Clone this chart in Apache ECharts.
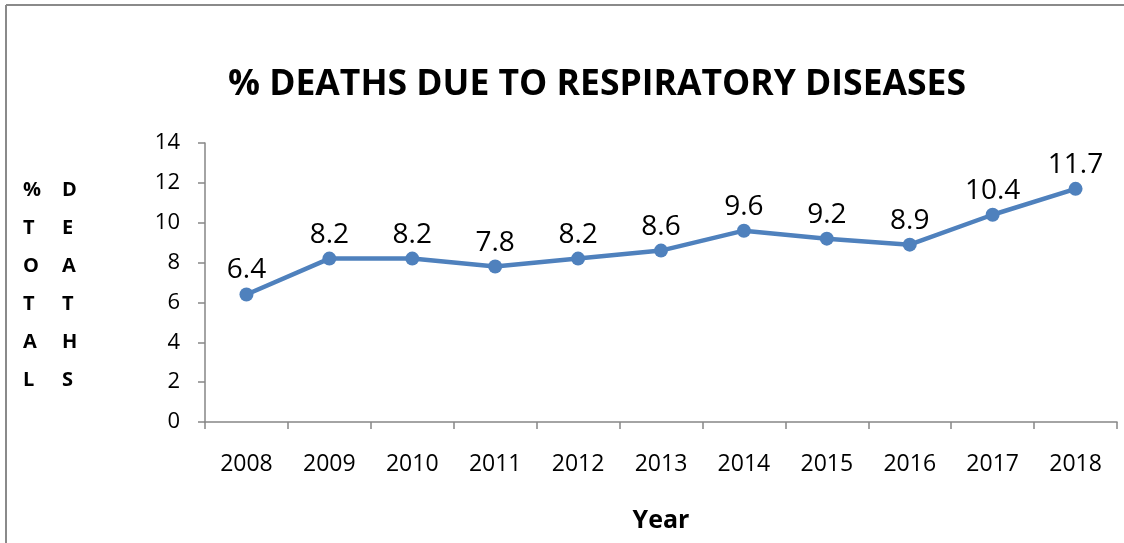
<!DOCTYPE html>
<html>
<head>
<meta charset="utf-8">
<script src="https://cdn.jsdelivr.net/npm/echarts@6/dist/echarts.min.js"></script>
<style>
  html, body { margin: 0; padding: 0; background: #fff; }
  #chart { width: 1124px; height: 543px; }
</style>
</head>
<body>
<div id="chart"></div>
<script>
// data
const years = ['2008', '2009', '2010', '2011', '2012', '2013', '2014', '2015', '2016', '2017', '2018']
const deathsPct = [6.4, 8.2, 8.2, 7.8, 8.2, 8.6, 9.6, 9.2, 8.9, 10.4, 11.7]
const yTicks = [0, 2, 4, 6, 8, 10, 12, 14]

const font = '"Open Sans", "Liberation Sans", sans-serif'
const axisGray = '#868686'

const chart = echarts.init(document.getElementById('chart'))

const option = {
  backgroundColor: '#fff',
  animation: false,
  title: {
    text: '% DEATHS DUE TO RESPIRATORY DISEASES',
    left: 592,
    top: 62,
    textAlign: 'center',
    textStyle: { fontFamily: font, fontSize: 35.5, fontWeight: 'bold', color: '#000' }
  },
  grid: { left: 205, right: 7, top: 143, bottom: 121, outerBoundsMode: 'none' },
  xAxis: {
    type: 'category',
    data: years,
    boundaryGap: true,
    name: 'Year',
    nameLocation: 'middle',
    nameGap: 86,
    nameTextStyle: { fontFamily: font, fontSize: 25, fontWeight: 'bold', color: '#000' },
    axisLine: { lineStyle: { color: axisGray, width: 1.5 } },
    axisTick: { show: true, alignWithLabel: false, length: 7, lineStyle: { color: axisGray, width: 1.5 } },
    axisLabel: { fontFamily: font, fontSize: 23, color: '#000', margin: 31 }
  },
  yAxis: {
    type: 'value',
    min: yTicks[0],
    max: yTicks[yTicks.length - 1],
    interval: 2,
    axisLine: { show: true, lineStyle: { color: axisGray, width: 1.5 } },
    axisTick: { show: true, length: 7, lineStyle: { color: axisGray, width: 1.5 } },
    axisLabel: { fontFamily: font, fontSize: 22, color: '#000', margin: 25 },
    splitLine: { show: false }
  },
  series: [
    {
      type: 'line',
      data: deathsPct,
      symbol: 'circle',
      symbolSize: 14,
      lineStyle: { color: '#4F81BD', width: 4.5 },
      itemStyle: { color: '#4F81BD' },
      label: {
        show: true,
        position: 'top',
        distance: 3,
        fontFamily: font,
        fontSize: 28,
        color: '#000'
      }
    }
  ],
  graphic: [
    // outer frame (only top & left visible in reference)
    { type: 'line', shape: { x1: 6, y1: 5, x2: 1124, y2: 5 }, style: { stroke: '#8a8a8a', lineWidth: 2 } },
    { type: 'line', shape: { x1: 6, y1: 5, x2: 6, y2: 543 }, style: { stroke: '#8a8a8a', lineWidth: 2 } },
    // stacked vertical axis title
    {
      type: 'text', left: 23, top: 171,
      style: { text: '%\nT\nO\nT\nA\nL', fontFamily: font, fontSize: 20, fontWeight: 'bold', fill: '#000', lineHeight: 38, align: 'center' }
    },
    {
      type: 'text', left: 62, top: 171,
      style: { text: 'D\nE\nA\nT\nH\nS', fontFamily: font, fontSize: 20, fontWeight: 'bold', fill: '#000', lineHeight: 38, align: 'center' }
    }
  ]
}

chart.setOption(option)
</script>
</body>
</html>
